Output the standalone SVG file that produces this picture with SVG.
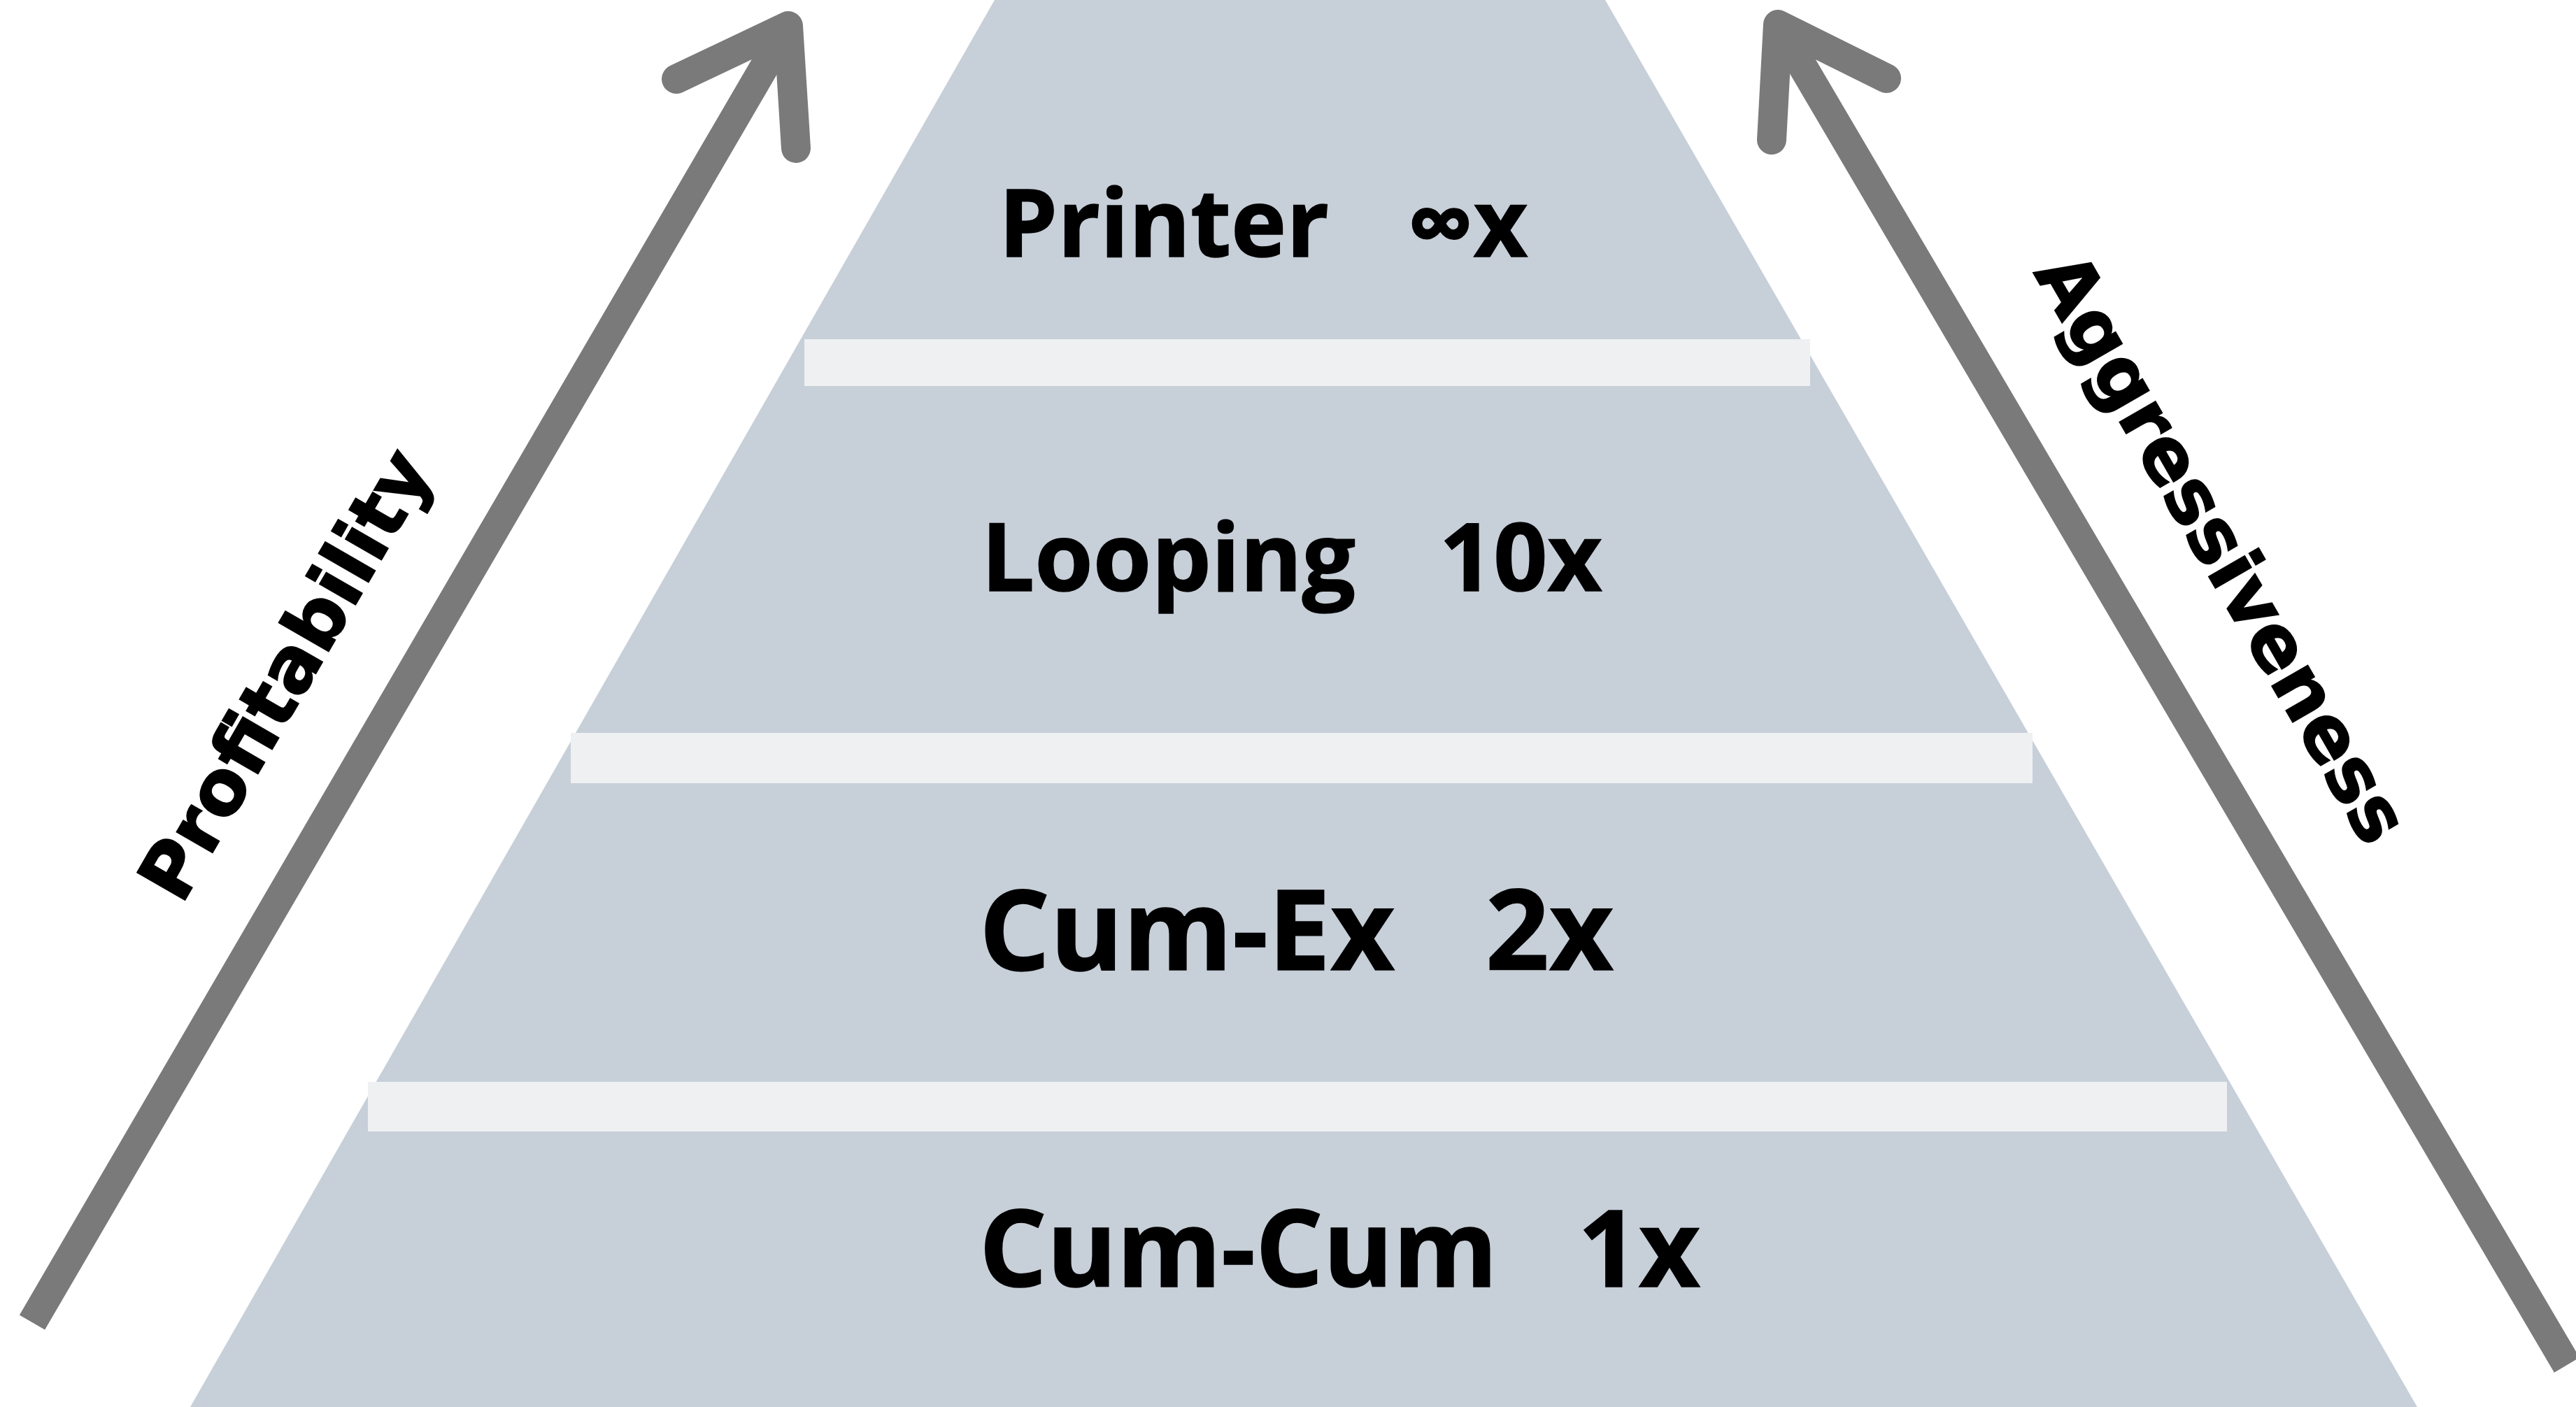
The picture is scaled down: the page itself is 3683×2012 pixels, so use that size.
<svg xmlns="http://www.w3.org/2000/svg" width="3683" height="2012" viewBox="0 0 3683 2012">
<style>
.lbl{font-family:"Open Sans","Liberation Sans",sans-serif;font-weight:700;fill:#000;stroke:#000;stroke-width:1.5}
.axis{font-family:"DejaVu Sans","Liberation Sans",sans-serif;font-weight:700;font-size:108px;fill:#000;stroke:#000;stroke-width:2}
.band{fill:#EEF0F2}
.arrow{fill:none;stroke:#7A7A7A;stroke-width:42}
</style>
<rect width="3683" height="2012" fill="#FFFFFF"/>
<g id="pyramid">
<polygon points="1422,0 2295,0 3456,2012 272,2012" fill="#C7CFD9"/>
<rect class="band" x="1150" y="485" width="1438" height="67"/>
<rect class="band" x="816" y="1048" width="2090" height="72"/>
<rect class="band" x="526" y="1547" width="2658" height="71"/>
</g>
<g id="tier-printer"><text class="lbl" font-size="134" x="1428" y="367">Printer <tspan x="2012">∞x</tspan></text></g>
<g id="tier-looping"><text class="lbl" font-size="135" x="1403" y="845">Looping <tspan x="2058">10x</tspan></text></g>
<g id="tier-cumex"><text class="lbl" font-size="159" x="1400" y="1387">Cum-Ex <tspan x="2124">2x</tspan></text></g>
<g id="tier-cumcum"><text class="lbl" font-size="152" x="1400" y="1840">Cum-Cum <tspan x="2256">1x</tspan></text></g>
<g id="connectors">
<line class="arrow" x1="46" y1="1891" x2="1127" y2="37" stroke-linecap="butt"/>
<polyline class="arrow" points="967,113 1127,37 1138,212" stroke-linecap="round" stroke-linejoin="round"/>
<line class="arrow" x1="3670" y1="1952" x2="2542" y2="35" stroke-linecap="butt"/>
<polyline class="arrow" points="2697,112 2542,35 2533,200" stroke-linecap="round" stroke-linejoin="round"/>
</g>
<g id="label-profitability"><text class="axis" text-anchor="middle" transform="translate(440,983) rotate(-60)">Profitability</text></g>
<g id="label-aggressiveness"><text class="axis" text-anchor="middle" transform="translate(3145,802) rotate(60)">Aggressiveness</text></g>
</svg>
